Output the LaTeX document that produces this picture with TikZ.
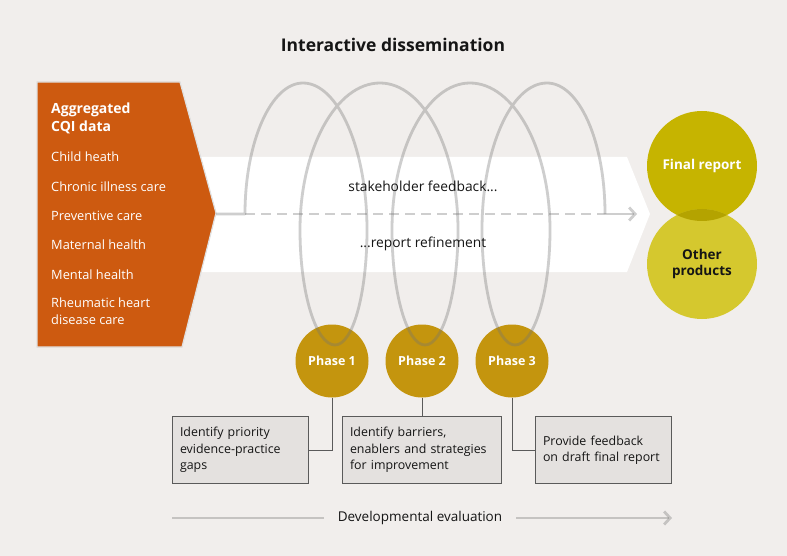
\documentclass[tikz,border=0pt]{standalone}
\usepackage{fontspec}
\setmainfont{Open Sans}
\usepackage{tikz}
\usetikzlibrary{positioning,arrows.meta}

\definecolor{bgcol}{HTML}{F1EEEC}
\definecolor{rustcol}{HTML}{CD5A10}
\definecolor{goldcol}{HTML}{C4950E}
\definecolor{olivecol}{HTML}{C6B400}
\definecolor{limecol}{HTML}{D5C82E}
\definecolor{overlapcol}{HTML}{B4A300}
\definecolor{boxcol}{HTML}{E4E1DF}
\definecolor{edgecol}{HTML}{5A5A5A}
\definecolor{inkcol}{HTML}{151515}

\tikzset{
  itemtext/.style={anchor=west, text=white, font=\fontsize{12.8}{17}\selectfont, inner sep=0pt},
  phase/.style={circle, fill=goldcol, minimum size=73pt, inner sep=0pt,
    text=white, font=\fontsize{12.5}{14}\selectfont\bfseries},
  stepbox/.style={draw=edgecol, line width=0.8pt, fill=boxcol, minimum height=67pt,
    inner xsep=8pt, align=left, text=inkcol, font=\fontsize{12.4}{16.5}\selectfont},
  link/.style={draw=edgecol, line width=0.9pt},
  coil/.style={draw=black!55, opacity=0.35, line width=2.8pt},
  product/.style={circle, minimum size=110pt, inner sep=0pt, align=center,
    font=\fontsize{13.5}{16}\selectfont\bfseries},
}

\begin{document}
\begin{tikzpicture}[x=1pt,y=1pt]
\fill[bgcol] (0,0) rectangle (787,-556);
\useasboundingbox (0,0) rectangle (787,-556);

% title
\node[font=\fontsize{17.5}{20}\selectfont\bfseries, text=inkcol] (title) at (393,-45) {Interactive dissemination};

% white band
\fill[white] (200,-157) -- (627,-157) -- (650,-214) -- (627,-272) -- (200,-272) -- cycle;

% aggregated data block
\fill[rustcol, draw=black!12, line width=1.2pt] (37,-82) -- (180,-82) -- (216,-213) -- (182,-347) -- (37,-347) -- cycle;
\coordinate (tip) at (216,-214);
\node[anchor=north west, align=left, text=white, inner sep=0pt,
  font=\fontsize{14}{18}\selectfont\bfseries] (data) at (51,-103) {Aggregated\\CQI data};
\node[itemtext] (i1) at (51,-157) {Child heath};
\node[itemtext] (i2) at (51,-187) {Chronic illness care};
\node[itemtext] (i3) at (51,-216) {Preventive care};
\node[itemtext] (i4) at (51,-245) {Maternal health};
\node[itemtext] (i5) at (51,-275) {Mental health};
\node[itemtext, align=left, anchor=north west] (i6) at (51,-298) {Rheumatic heart\\disease care};

% dashed track
\coordinate (end) at (637,-214);
\draw[coil, dash pattern=on 10pt off 6pt] (245,-214) -- (605,-214);

% phases
\node[phase] (p1) at (332,-361) {Phase 1};
\node[phase] (p2) at (422,-361) {Phase 2};
\node[phase] (p3) at (512,-361) {Phase 3};

% feedback coil
\draw[coil, line join=round] (tip) -- (245,-214)
  .. controls (245,-142) and (271,-83) .. (303,-83)
  .. controls (338,-83) and (367,-149) .. (367,-230)
  .. controls (367,-293) and (353,-345) .. (335,-345)
  .. controls (316,-345) and (300,-293) .. (300,-230)
  .. controls (300,-149) and (336,-83) .. (380,-83)
  .. controls (423,-83) and (458,-149) .. (458,-230)
  .. controls (458,-293) and (443,-345) .. (425,-345)
  .. controls (407,-345) and (392,-293) .. (392,-230)
  .. controls (392,-149) and (427,-83) .. (470,-83)
  .. controls (514,-83) and (550,-149) .. (550,-230)
  .. controls (550,-293) and (534,-345) .. (515,-345)
  .. controls (497,-345) and (482,-293) .. (482,-230)
  .. controls (482,-149) and (511,-83) .. (547,-83)
  .. controls (579,-83) and (605,-141) .. (605,-214);
\draw[coil, -{Straight Barb[length=6pt,width=13pt]}] (605,-214) -- (end);

% band labels
\node[font=\fontsize{13.8}{16}\selectfont, text=inkcol] (fb) at (423,-186) {stakeholder feedback...};
\node[font=\fontsize{13.8}{16}\selectfont, text=inkcol] (rf) at (423,-244) {...report refinement};

% outputs
\node[product, fill=olivecol, text=white] (fr) at (702,-166) {Final report};
\node[product, fill=limecol, text=inkcol] (op) at (702,-264) {};
\begin{scope}
  \clip (702,-166) circle (55pt);
  \fill[overlapcol] (op) circle (55pt);
\end{scope}
\node[font=\fontsize{13.5}{16}\selectfont\bfseries, align=center, text=inkcol] at (op) {Other\\products};

% tasks
\node[stepbox, text width=120pt] (b1) at (240,-450) {Identify priority\\evidence-practice\\gaps};
\node[stepbox, text width=143pt] (b2) at (421.5,-450) {Identify barriers,\\enablers and strategies\\for improvement};
\node[stepbox, text width=120pt] (b3) at (603,-450) {Provide feedback\\on draft final report};
\draw[link] (p1.south) |- (b1.east);
\draw[link] (p2.south) -- (p2.south |- b2.north);
\draw[link] (p3.south) |- (b3.west);

% developmental evaluation
\node[font=\fontsize{13.5}{16}\selectfont, text=inkcol, inner xsep=14pt] (dev) at (420,-518) {Developmental evaluation};
\coordinate (devL) at (172,-518);
\coordinate (devR) at (672,-518);
\draw[coil] (devL) -- (dev.west);
\draw[coil, -{Straight Barb[length=6pt,width=13pt]}] (dev.east) -- (devR);
\end{tikzpicture}
\end{document}
